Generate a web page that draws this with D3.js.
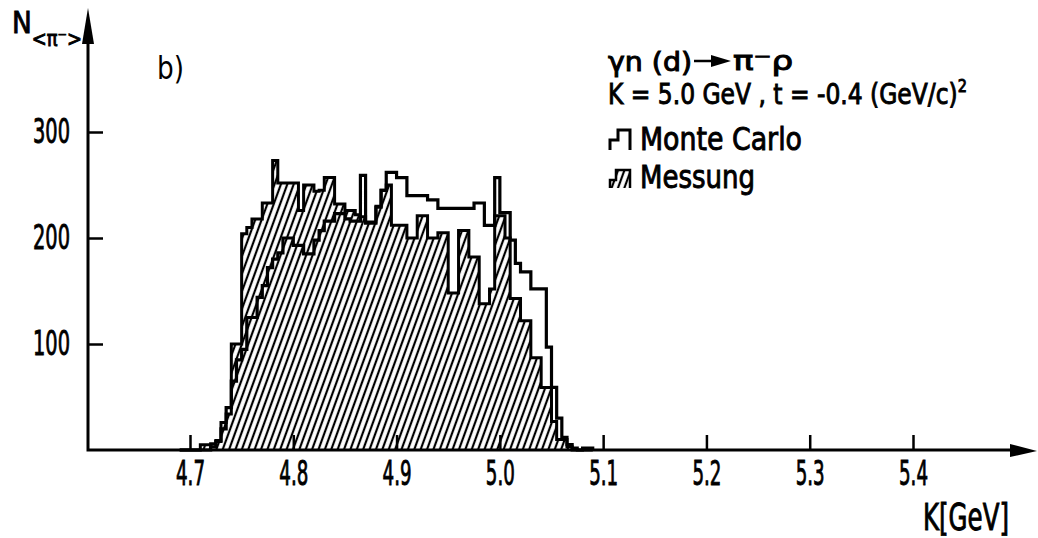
<!DOCTYPE html>
<html>
<head>
<meta charset="utf-8">
<script src="https://cdnjs.cloudflare.com/ajax/libs/d3/7.8.5/d3.min.js"></script>
<style>
body { margin: 0; background: #fff; }
text { font-family: "DejaVu Sans Condensed", "DejaVu Sans", sans-serif; fill: #000; }
</style>
</head>
<body>
<svg id="chart" width="1038" height="538"></svg>
<script>
// bins of 5 MeV starting at 4.69 GeV
var binStart = 4.69, binWidth = 0.005;

// Messung (hatched)
var messung = [
    0, 0, 0, 0, 5, 5, 6, 9, 26, 34,
    100, 100, 204, 210, 218, 218, 233, 233, 273, 252,
    252, 252, 252, 226, 250, 250, 244, 245, 257, 257,
    232, 232, 226, 226, 222, 220, 215, 215, 230, 245,
    250, 212, 212, 212, 200, 200, 221, 221, 200, 200,
    205, 205, 148, 148, 207, 207, 182, 182, 138, 138,
    152, 221, 221, 200, 143, 143, 122, 122, 87, 87,
    59, 59, 27, 10, 10, 3, 2, 0, 2, 2
];

// Monte Carlo (outline)
var monteCarlo = [
    0, 0, 0, 0, 0, 0, 3, 8, 20, 40,
    65, 85, 95, 125, 125, 144, 155, 172, 180, 186,
    200, 200, 193, 193, 185, 185, 198, 207, 216, 216,
    223, 223, 218, 216, 216, 259, 214, 214, 229, 245,
    262, 262, 257, 257, 240, 240, 240, 240, 236, 236,
    228, 228, 228, 228, 228, 228, 228, 233, 233, 212,
    212, 257, 224, 224, 198, 176, 168, 168, 152, 152,
    152, 97, 59, 30, 12, 5, 0, 0, 0, 0
];

var kTicks = [4.7, 4.8, 4.9, 5.0, 5.1, 5.2, 5.3, 5.4];
var nTicks = [100, 200, 300];

var svg = d3.select('#chart');
var x = d3.scaleLinear().domain([4.7, 5.4]).range([190, 913]);
var y = d3.scaleLinear().domain([0, 300]).range([450, 132]);

var bins = function(values) {
    var pts = values.map(function(v, i) { return { k: binStart + i * binWidth, v: v }; });
    pts.push({ k: binStart + values.length * binWidth, v: 0 });
    return pts;
};

// squeeze a text horizontally to a given width (condensed lettering)
var fit = function(t, len) {
    var w = t.node().getComputedTextLength();
    var px = +t.attr('x') || 0;
    t.attr('x', 0).attr('transform', 'translate(' + px + ',0) scale(' + (len / w) + ',1)');
    return t;
};

var defs = svg.append('defs');
var hatch = defs.append('pattern').attr('id', 'hatch')
    .attr('patternUnits', 'userSpaceOnUse')
    .attr('width', 6).attr('height', 6)
    .attr('patternTransform', 'rotate(20)');
hatch.append('line').attr('x1', 3).attr('y1', -1).attr('x2', 3).attr('y2', 7)
    .attr('stroke', '#000').attr('stroke-width', 2.2);

var area = d3.area().curve(d3.curveStepAfter)
    .x(function(d) { return x(d.k); })
    .y0(y(0))
    .y1(function(d) { return y(d.v); });
var line = d3.line().curve(d3.curveStepAfter)
    .x(function(d) { return x(d.k); })
    .y(function(d) { return y(d.v); });

var mData = bins(messung), mcData = bins(monteCarlo);

svg.append('path').datum(mData).attr('d', area).attr('fill', 'url(#hatch)');
svg.append('path').datum(mData).attr('d', line)
    .attr('fill', 'none').attr('stroke', '#000').attr('stroke-width', 3);
svg.append('path').datum(mcData).attr('d', line)
    .attr('fill', 'none').attr('stroke', '#000').attr('stroke-width', 3.2);

// axes
var xAxis = d3.axisBottom(x).tickValues(kTicks).tickSize(-15).tickPadding(11)
    .tickFormat(d3.format('.1f'));
var gx = svg.append('g').attr('transform', 'translate(0,' + y(0) + ')').call(xAxis);
gx.select('.domain').remove();
gx.selectAll('.tick line').attr('stroke', '#000').attr('stroke-width', 2.5);
gx.selectAll('.tick text').attr('font-size', 34).attr('fill', '#000')
    .attr('stroke', '#000').attr('stroke-width', 0.9)
    .each(function() { fit(d3.select(this), 29); });

var yAxis = d3.axisLeft(y).tickValues(nTicks).tickSize(-15).tickPadding(18)
    .tickFormat(d3.format('d'));
var gy = svg.append('g').attr('transform', 'translate(88,0)').call(yAxis);
gy.select('.domain').remove();
gy.selectAll('.tick line').attr('stroke', '#000').attr('stroke-width', 2.5);
gy.selectAll('.tick text').attr('font-size', 34).attr('fill', '#000')
    .attr('stroke', '#000').attr('stroke-width', 0.9)
    .each(function() { fit(d3.select(this), 37); });

svg.append('path').attr('d', 'M88,' + y(0) + 'V40M86.5,' + y(0) + 'H1014')
    .attr('stroke', '#000').attr('stroke-width', 3).attr('fill', 'none');
svg.append('path').attr('d', 'M88,8L94,44L82,44Z').attr('fill', '#000');
svg.append('path').attr('d', 'M1037,' + (y(0) + 1) + 'L1010,' + (y(0) - 6) + 'L1010,' + (y(0) + 7) + 'Z').attr('fill', '#000');

// texts
var label = function(str, px, py, size, len, bold) {
    var t = svg.append('text').attr('x', px).attr('y', py).attr('font-size', size).text(str);
    if (bold !== false) t.attr('stroke', '#000').attr('stroke-width', 0.9);
    return fit(t, len);
};

var nLab = svg.append('text').attr('x', 12).attr('y', 33).attr('font-size', 31)
    .attr('stroke', '#000').attr('stroke-width', 0.9);
nLab.append('tspan').text('N');
nLab.append('tspan').attr('font-size', 21).attr('dy', 13).text('<π⁻>');
fit(nLab, 70);

label('b)', 157, 79, 32, 27, false);
label('K[GeV]', 923, 530, 37, 86);

label('γn (d)', 608, 71, 26, 84);
svg.append('path').attr('d', 'M694,61H714').attr('stroke', '#000').attr('stroke-width', 2.5);
svg.append('path').attr('d', 'M731,61L711,55L711,67Z').attr('fill', '#000');
label('π⁻ρ', 733, 70, 26, 60);

var kLab = svg.append('text').attr('x', 608).attr('y', 104).attr('font-size', 29)
    .attr('stroke', '#000').attr('stroke-width', 0.9);
kLab.append('tspan').text('K = 5.0 GeV , t = -0.4 (GeV/c)');
kLab.append('tspan').attr('font-size', 18).attr('dy', -12).text('2');
fit(kLab, 359);

svg.append('path').attr('d', 'M610,150V140H618V130H630V150')
    .attr('fill', 'none').attr('stroke', '#000').attr('stroke-width', 3);
label('Monte Carlo', 640, 150, 32, 162);

svg.append('path').attr('d', 'M610,188V180H616V170H630V188Z').attr('fill', 'url(#hatch)');
svg.append('path').attr('d', 'M610,188V180H616V170H630V188')
    .attr('fill', 'none').attr('stroke', '#000').attr('stroke-width', 2.5);
label('Messung', 640, 188, 32, 115);
</script>
</body>
</html>
